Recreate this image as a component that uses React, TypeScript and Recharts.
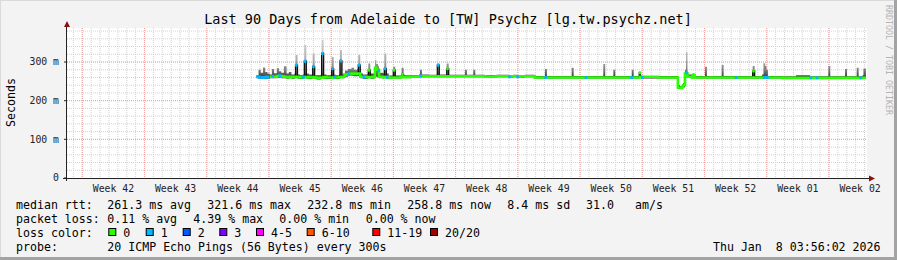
import React from "react";
import { ComposedChart, Area, Line, XAxis, YAxis, CartesianGrid } from "recharts";

const FONT = '"DejaVu Sans Mono", monospace';

// time in days since the start of the 90 day window
const days = [
  21.34, 21.55, 21.8, 22.05, 22.3, 22.55, 22.8, 23.05, 23.3, 23.6,
  23.85, 24.1, 24.4, 24.7, 24.95, 25.25, 25.6, 25.71, 25.93, 26.2,
  26.52, 26.6, 26.7, 26.92, 27.2, 27.54, 27.64, 27.86, 28.1, 28.55,
  28.65, 28.87, 29.2, 29.68, 29.78, 30.0, 30.2, 30.61, 30.71, 30.93,
  31.1, 31.27, 31.6, 32.0, 32.3, 32.62, 32.77, 32.99, 33.3, 33.8,
  33.9, 34.12, 34.55, 34.65, 34.8, 34.99, 35.1, 35.6, 35.7, 35.92,
  36.2, 36.61, 36.71, 36.93, 37.55, 37.65, 37.87, 38.6, 39.6, 39.71,
  39.93, 40.7, 41.56, 41.66, 41.88, 42.62, 42.72, 42.94, 43.7, 44.67,
  44.77, 44.99, 45.61, 45.71, 45.93, 47.0, 48.3, 49.7, 50.2, 50.6,
  51.5, 52.6, 53.67, 53.77, 53.99, 55.2, 56.68, 56.78, 57.0, 58.3,
  59.3, 60.23, 60.33, 60.55, 61.36, 61.46, 61.68, 63.43, 63.53, 63.75,
  64.28, 64.38, 64.5, 64.65, 66.5, 68.6, 68.72, 68.96, 69.2, 69.32,
  69.52, 69.64, 69.8, 70.29, 70.39, 70.6, 71.67, 71.77, 71.99, 73.55,
  73.65, 73.87, 75.2, 77.04, 77.14, 77.36, 78.2, 78.35, 78.55, 78.7,
  78.85, 80.5, 82.0, 83.6, 84.3, 85.55, 85.65, 85.87, 87.43, 87.53,
  87.75, 88.74, 88.84, 89.06, 89.2, 89.5, 89.6, 89.88,
];

// median rtt in ms
const medianMs = [
  262, 261, 260, 260, 261, 261, 262, 263, 262, 264,
  265, 263, 262, 261, 262, 261, 262, 292, 261, 260,
  261, 261, 302, 261, 260, 261, 288, 260, 259, 260,
  322, 261, 260, 260, 283, 261, 260, 261, 303, 262,
  262, 268, 270, 270, 269, 270, 292, 262, 261, 261,
  279, 261, 262, 285, 280, 278, 262, 261, 283, 261,
  260, 260, 279, 260, 261, 268, 261, 262, 263, 264,
  263, 263, 263, 292, 263, 263, 283, 263, 263, 263,
  263, 263, 263, 263, 263, 262, 263, 262, 263, 262,
  263, 260, 260, 260, 260, 260, 260, 260, 260, 260,
  260, 260, 260, 260, 260, 260, 260, 260, 260, 260,
  260, 272, 262, 260, 260, 260, 234, 233, 236, 240,
  270, 272, 262, 260, 266, 260, 260, 260, 260, 260,
  260, 260, 260, 260, 277, 260, 260, 260, 260, 260,
  260, 259, 259, 259, 259, 259, 259, 259, 259, 259,
  259, 259, 259, 259, 259, 259, 259, 259,
];

// smoke: lowest and highest ping of each round, ms
const smokeLowMs = [
  258, 257, 256, 256, 257, 257, 258, 258, 258, 259,
  259, 258, 258, 257, 258, 257, 258, 260, 257, 256,
  257, 257, 262, 257, 256, 257, 260, 256, 255, 256,
  262, 257, 256, 256, 260, 257, 256, 257, 262, 258,
  258, 262, 264, 264, 263, 264, 264, 258, 257, 257,
  260, 257, 258, 262, 262, 262, 258, 257, 260, 257,
  258, 258, 260, 258, 259, 260, 259, 260, 261, 261,
  261, 261, 261, 262, 261, 261, 262, 261, 261, 261,
  261, 261, 261, 261, 261, 260, 261, 260, 261, 260,
  261, 258, 258, 258, 258, 258, 258, 258, 258, 258,
  258, 258, 258, 258, 258, 258, 258, 258, 258, 258,
  258, 260, 259, 258, 258, 258, 231, 230, 232, 235,
  258, 260, 259, 258, 260, 258, 258, 258, 258, 258,
  258, 258, 258, 258, 258, 258, 258, 258, 258, 258,
  258, 257, 257, 257, 257, 257, 257, 257, 257, 257,
  257, 257, 257, 257, 257, 257, 257, 257,
];

const smokeHighMs = [
  266, 280, 272, 286, 274, 270, 268, 282, 271, 284,
  276, 272, 289, 270, 274, 268, 270, 318, 268, 266,
  268, 268, 344, 270, 268, 268, 322, 266, 266, 268,
  357, 268, 266, 268, 313, 268, 266, 268, 331, 268,
  270, 278, 282, 285, 280, 282, 318, 270, 268, 270,
  296, 270, 272, 305, 295, 290, 272, 270, 322, 270,
  265, 265, 288, 265, 266, 285, 266, 266, 268, 280,
  268, 267, 268, 296, 268, 268, 296, 267, 267, 267,
  280, 267, 267, 280, 267, 266, 267, 266, 267, 266,
  267, 264, 264, 282, 264, 264, 264, 285, 264, 264,
  264, 264, 295, 264, 264, 280, 264, 264, 280, 264,
  264, 275, 266, 264, 264, 264, 240, 238, 242, 246,
  280, 326, 268, 264, 270, 264, 264, 288, 264, 264,
  292, 264, 264, 264, 290, 264, 268, 297, 290, 280,
  264, 263, 266, 263, 263, 263, 290, 263, 263, 282,
  263, 263, 285, 263, 263, 266, 283, 263,
];

// lost pings out of 20
const lossCount = [
  1, 1, 1, 1, 1, 1, 0, 1, 0, 0,
  1, 0, 0, 0, 0, 0, 0, 1, 0, 0,
  1, 0, 1, 0, 0, 0, 1, 0, 0, 0,
  1, 0, 0, 0, 1, 1, 0, 0, 1, 0,
  0, 0, 1, 0, 0, 0, 1, 0, 1, 0,
  0, 0, 0, 0, 0, 1, 0, 0, 1, 1,
  0, 0, 0, 0, 0, 0, 0, 0, 0, 1,
  0, 0, 0, 1, 0, 0, 0, 0, 0, 0,
  0, 0, 0, 0, 0, 0, 0, 1, 0, 1,
  0, 0, 0, 1, 0, 0, 0, 0, 0, 1,
  0, 0, 0, 0, 0, 0, 0, 1, 0, 0,
  0, 0, 0, 1, 0, 0, 0, 0, 0, 0,
  0, 1, 0, 0, 0, 0, 0, 0, 0, 0,
  0, 0, 1, 0, 0, 0, 0, 1, 0, 1,
  0, 0, 0, 1, 1, 0, 0, 0, 0, 0,
  0, 0, 0, 0, 1, 0, 0, 0,
];

const weekLabels = [
  "Week 42", "Week 43", "Week 44", "Week 45", "Week 46", "Week 47", "Week 48",
  "Week 49", "Week 50", "Week 51", "Week 52", "Week 01", "Week 02",
];
const firstWeekStart = 1.72; // day offset of the Monday that starts Week 42
const yTicks = [0, 100, 200, 300];

const lossBuckets = ["0", "1", "2", "3", "4-5", "6-10", "11-19", "20/20"];
const lossColors = ["#26ff00", "#00b8ff", "#0059ff", "#7e00ff", "#ff00ff", "#ff5500", "#ff0000", "#a10000"];

const lossIndex = (n: number) => {
  if (n <= 3) return n;
  if (n <= 5) return 4;
  if (n <= 10) return 5;
  if (n <= 19) return 6;
  return 7;
};

const isPeak = (i: number) => {
  const prev = medianMs[i - 1] ?? medianMs[i];
  const next = medianMs[i + 1] ?? medianMs[i];
  return medianMs[i] - Math.max(prev, next) > 6;
};

const rows = days.map((t, i) => ({
  t,
  median: medianMs[i],
  smoke: [smokeLowMs[i], smokeHighMs[i]],
  green: lossCount[i] === 0 && !isPeak(i) ? medianMs[i] : null,
}));

const weekStarts = weekLabels.map((_, k) => firstWeekStart + k * 7);
const weekCenters = weekStarts.map((d) => d + 3.5);
const dayLines: number[] = [];
for (let d = firstWeekStart - 1; d < 90; d += 1) dayLines.push(d);
const minorY: number[] = [];
for (let v = 20; v < 388; v += 20) minorY.push(v);

const renderDot = (props: any) => {
  const { cx, cy, index } = props;
  const show = lossCount[index] > 0 || isPeak(index);
  if (!show || cx == null || cy == null) return <g key={`d${index}`} />;
  return (
    <rect
      key={`d${index}`}
      x={cx - 0.5}
      y={cy - 1.5}
      width={2.6}
      height={3}
      fill={lossColors[lossIndex(lossCount[index])]}
    />
  );
};

const tickFont = { fontSize: 9.8, fontFamily: FONT, fill: "#222" };

export default function App() {
  const legendY = 208.5;
  const boxX = [108.3, 145.7, 182.7, 219.3, 256, 306.7, 372.3, 430];
  return (
    <div style={{ position: "relative", width: 897, height: 260, background: "#f3f3f3" }}>
      <style>{`body{margin:0}`}</style>
      <ComposedChart width={897} height={260} data={rows} margin={{ top: 28, right: 30, bottom: 52, left: 0 }}>
        <defs>
          <linearGradient id="smokeFade" x1="0" y1="0" x2="0" y2="1">
            <stop offset="0%" stopColor="#d0d0d0" />
            <stop offset="40%" stopColor="#acacac" />
            <stop offset="62%" stopColor="#7a7a7a" />
            <stop offset="76%" stopColor="#3a3a3a" />
            <stop offset="100%" stopColor="#3a3a3a" />
          </linearGradient>
        </defs>
        <CartesianGrid
          fill="#ffffff"
          stroke="#d2d2d2"
          strokeDasharray="1 1"
          horizontalValues={minorY}
          verticalValues={dayLines}
        />
        <CartesianGrid
          stroke="#f2a0a0"
          strokeDasharray="1 1"
          horizontalValues={[100, 200, 300]}
          verticalValues={weekStarts}
        />
        <XAxis
          dataKey="t"
          type="number"
          domain={[0, 90]}
          allowDataOverflow
          ticks={weekCenters}
          interval={0}
          tickFormatter={(v: number) => weekLabels[Math.round((v - weekCenters[0]) / 7)] ?? ""}
          tick={tickFont}
          tickLine={false}
          axisLine={false}
          tickSize={6}
          tickMargin={1}
          height={30}
        />
        <YAxis
          type="number"
          domain={[0, 388]}
          allowDataOverflow
          ticks={yTicks}
          interval={0}
          tickFormatter={(v: number) => (v === 0 ? "0" : `${v} m`)}
          tick={tickFont}
          tickLine={{ stroke: "#222" }}
          tickSize={3}
          tickMargin={5}
          axisLine={false}
          width={67}
        />
        <Area
          dataKey="smoke"
          type="stepAfter"
          stroke="none"
          fill="url(#smokeFade)"
          fillOpacity={1}
          isAnimationActive={false}
        />
        <Line dataKey="median" type="stepAfter" stroke="#111" strokeWidth={1.3} dot={false} isAnimationActive={false} />
        <Line
          dataKey="green"
          type="stepAfter"
          stroke={lossColors[0]}
          strokeWidth={2.6}
          dot={false}
          connectNulls
          isAnimationActive={false}
        />
        <Line dataKey="median" type="stepAfter" stroke="none" dot={renderDot} isAnimationActive={false} />
      </ComposedChart>
      <svg
        width={897}
        height={260}
        style={{ position: "absolute", left: 0, top: 0, pointerEvents: "none", fontFamily: FONT }}
      >
        <rect x={0} y={0} width={897} height={1} fill="#dadada" />
        <rect x={0} y={0} width={1} height={260} fill="#dadada" />
        <rect x={0} y={257} width={897} height={3} fill="#a3a3a3" />
        <rect x={894} y={0} width={3} height={260} fill="#a3a3a3" />

        <line x1={66.5} y1={24} x2={66.5} y2={181} stroke="#222" />
        <line x1={63} y1={178.5} x2={870} y2={178.5} stroke="#222" />
        <polygon points="64,27 70,27 67,21" fill="#8b1010" />
        <polygon points="869,175.5 869,181.5 875,178.5" fill="#8b1010" />

        <text x={448} y={24} textAnchor="middle" fontSize={13.5} fill="#000">
          Last 90 Days from Adelaide to [TW] Psychz [lg.tw.psychz.net]
        </text>
        <text transform="translate(14.5,102.5) rotate(-90)" textAnchor="middle" fontSize={11.6} fill="#000">
          Seconds
        </text>
        <text transform="translate(886,5) rotate(90)" fontSize={8.3} fill="#b4b4b4">
          RRDTOOL / TOBI OETIKER
        </text>

        <g fontSize={11.6} fill="#000">
          <text x={16} y={legendY}>median rtt:</text>
          <text x={107.3} y={legendY}>261.3 ms avg</text>
          <text x={207.3} y={legendY}>321.6 ms max</text>
          <text x={307.3} y={legendY}>232.8 ms min</text>
          <text x={407.3} y={legendY}>258.8 ms now</text>
          <text x={507.3} y={legendY}>8.4 ms sd</text>
          <text x={586} y={legendY}>31.0</text>
          <text x={635} y={legendY}>am/s</text>

          <text x={16} y={legendY + 14}>packet loss:</text>
          <text x={107.3} y={legendY + 14}>0.11 % avg</text>
          <text x={193.3} y={legendY + 14}>4.39 % max</text>
          <text x={279.3} y={legendY + 14}>0.00 % min</text>
          <text x={365.7} y={legendY + 14}>0.00 % now</text>

          <text x={16} y={legendY + 28}>loss color:</text>
          {lossBuckets.map((label, i) => (
            <g key={label}>
              <rect x={boxX[i] + 0.5} y={228.5} width={7} height={7} fill={lossColors[i]} stroke="#000" />
              <text x={boxX[i] + 15} y={legendY + 28}>{label}</text>
            </g>
          ))}

          <text x={16} y={legendY + 42}>probe:</text>
          <text x={107.3} y={legendY + 42}>20 ICMP Echo Pings (56 Bytes) every 300s</text>
          <text x={880.5} y={legendY + 42} textAnchor="end">{"Thu Jan \u00a08 03:56:02 2026"}</text>
        </g>
      </svg>
    </div>
  );
}
